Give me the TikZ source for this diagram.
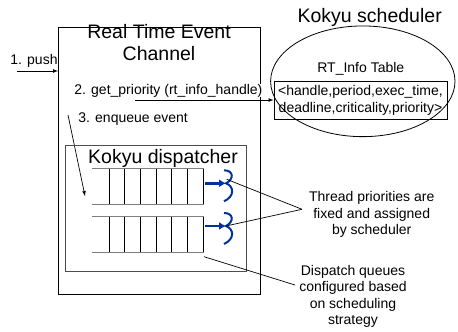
\documentclass[tikz,border=0pt]{standalone}
\usepackage{fontspec}
\setmainfont{Liberation Sans}
\usetikzlibrary{calc,shapes.geometric,arrows.meta}
\definecolor{threadblue}{RGB}{0,51,153}

\begin{document}
\begin{tikzpicture}[x=1pt,y=-1pt,line width=0.7pt,
    big/.style={font=\fontsize{19.5}{22}\selectfont, inner sep=0pt},
    lbl/.style={font=\fontsize{14}{16.5}\selectfont, inner sep=0pt},
    thread/.style={draw=threadblue, line width=2pt},
    threadarrow/.style={draw=threadblue, line width=2.5pt, -{Latex[length=7pt,width=8pt]}}]
    \useasboundingbox (0,0) rectangle (458,332);
    % Event channel
    \node[draw, line width=0.9pt, minimum width=202, minimum height=267, inner sep=0] (rtec) at (159.5,160.5) {};
    \node[big, align=center] (rtectitle) at (159,43) {Real Time Event\\Channel};
    \node[lbl, anchor=base west] (push) at (10,64) {1. push};
    \coordinate (pushin) at (17,71);
    \draw[-latex] (pushin) -- (pushin -| rtec.west);
    \node[lbl, anchor=base west, fill=white] (getprio) at (74,94) {2. get\_priority (rt\_info\_handle)};
    \node[lbl, anchor=base west] (enq) at (78,122) {3. enqueue event};
    \coordinate (enqin) at (68,115);
    \coordinate (enqout) at (85,196);
    \draw[-latex] (enqin) -- (enqout);
    % Dispatcher
    \node[draw=black!70, line width=0.9pt, minimum width=180.7, minimum height=126, inner sep=0] (disp) at (155.7,208) {};
    \node[big, anchor=base] (disptitle) at (163,163) {Kokyu dispatcher};
    % Queues
    \foreach \q/\y in {q1/186.5, q2/234.5} {
      \node[minimum width=111, minimum height=35, inner sep=0] (\q) at (147.8,\y) {};
      \draw[gray, line width=1.2pt] (\q.north west) -- (\q.north east);
      \draw[gray, line width=1.2pt] (\q.south west) -- (\q.south east);
      \foreach \i in {0,...,6}
        \draw ($(\q.north west)+(17+\i*15.67,0)$) -- ++(0,35);
    }
    % Threads
    \foreach \n/\y in {1/183.3, 2/226} {
      \coordinate (m\n) at (226,\y);
      \coordinate (t\n) at (205,\y);
      \draw[threadarrow] (t\n) -- (m\n);
      \draw[thread] ($(m\n)+(-2,-13)$) .. controls ($(m\n)+(8,-13)$) and ($(m\n)+(8,-4)$) .. (m\n)
        .. controls ($(m\n)+(8,3)$) and ($(m\n)+(9,13)$) .. ($(m\n)+(-2,18)$);
    }
    % Scheduler
    \node[big, anchor=base] (schedtitle) at (369.7,22.7) {Kokyu scheduler};
    \node[draw, ellipse, line width=0.8pt, minimum width=184.4, minimum height=110.7, inner sep=0] (sched) at (362.8,81.3) {};
    \node[lbl, anchor=base] (tabletitle) at (360.8,72.7) {RT\_Info Table};
    \node[lbl, draw, line width=0.8pt, align=center, minimum width=173, minimum height=38.3] (rtinfo) at (360.5,100.2)
      {\textless handle,period,exec\_time,\\deadline,criticality,priority\textgreater};
    \coordinate (gpin) at (135,100);
    \draw[-latex] (gpin) -- (gpin -| rtinfo.west);
    % Notes
    \node[lbl, align=center] (prionote) at (371.7,214.7) {Thread priorities are\\fixed and assigned\\by scheduler};
    \coordinate (prioref) at (302,209.3);
    \coordinate (h1) at (226.7,179.3);
    \draw (prioref) -- (h1);
    \draw (prioref) -- (m2);
    \node[lbl, align=center] (dispnote) at (353,296.5) {Dispatch queues\\configured based\\on scheduling\\strategy};
    \coordinate (dispref) at (295,285);
    \coordinate (qfoot) at (204,256.7);
    \draw (dispref) -- (qfoot);
  \end{tikzpicture}
\end{document}
